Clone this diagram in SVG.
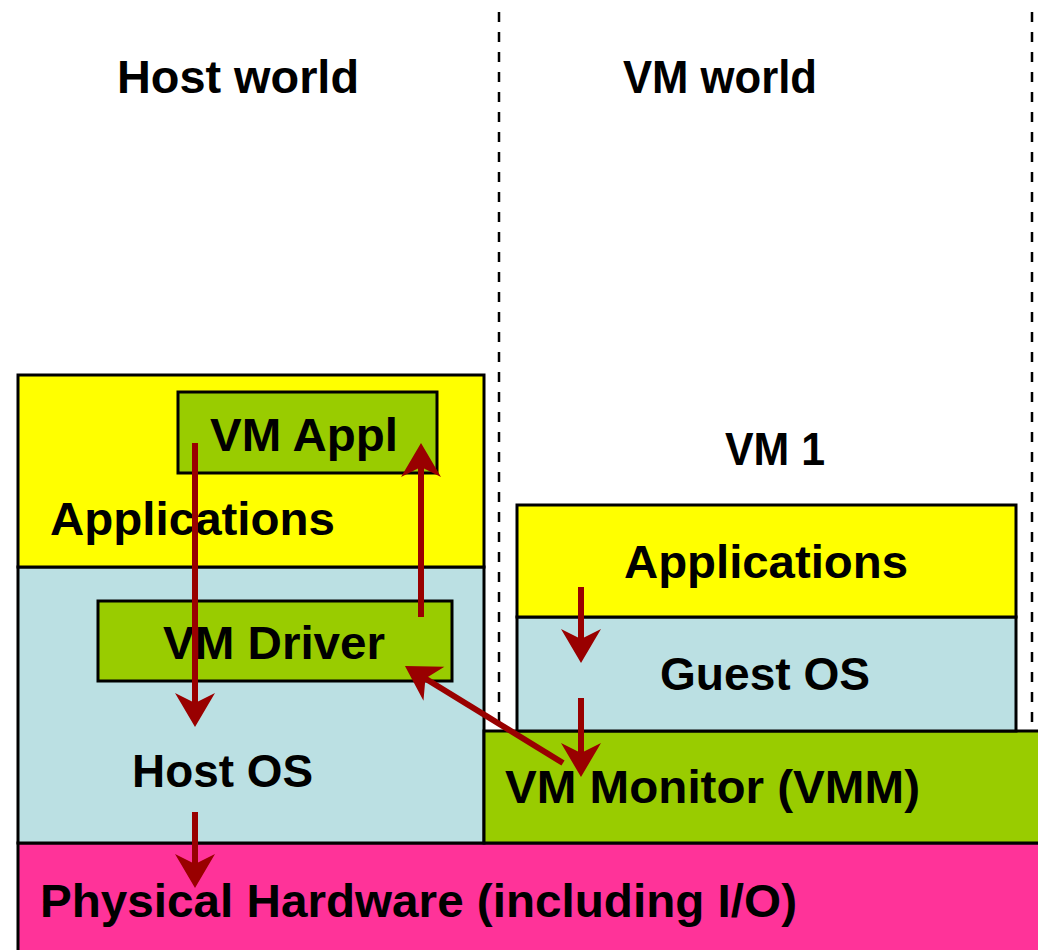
<svg xmlns="http://www.w3.org/2000/svg" width="1038" height="950" viewBox="0 0 1038 950">
<style>
.box{stroke:#000;stroke-width:3}
.yel{fill:#FFFF00}
.blu{fill:#BBE0E3}
.grn{fill:#99CC00}
.pnk{fill:#FF3399}
.t{font-family:"Liberation Sans",Arial,sans-serif;font-weight:bold;font-size:46px;fill:#000}
.dash{stroke:#000;stroke-width:2.5;stroke-dasharray:10 10;fill:none}
.arr{stroke:#990000;stroke-width:6;fill:none;marker-end:url(#ah)}
</style>
<defs>
<marker id="ah" viewBox="0 0 36 44" refX="14" refY="22" markerWidth="36" markerHeight="44" markerUnits="userSpaceOnUse" orient="auto">
<path d="M34,22 L0,2 L10,22 L0,42 Z" fill="#990000"/>
</marker>
</defs>
<rect width="1038" height="950" fill="#fff"/>
<g id="dividers">
<line class="dash" x1="499" y1="12" x2="499" y2="731"/>
<line class="dash" x1="1032" y1="12" x2="1032" y2="731"/>
</g>
<g id="host-world-label"><text class="t" x="117" y="93" textLength="242" lengthAdjust="spacingAndGlyphs">Host world</text></g>
<g id="vm-world-label"><text class="t" x="623" y="93" textLength="194" lengthAdjust="spacingAndGlyphs">VM world</text></g>
<g id="vm1-label"><text class="t" x="725" y="465" textLength="100" lengthAdjust="spacingAndGlyphs">VM 1</text></g>
<g id="physical-hardware">
<rect class="box pnk" x="18" y="843" width="1030" height="120"/>
<text class="t" x="40" y="917" textLength="757" lengthAdjust="spacingAndGlyphs">Physical Hardware (including I/O)</text>
</g>
<g id="host-os">
<rect class="box blu" x="18" y="567" width="466" height="276"/>
<text class="t" x="132" y="787" textLength="181" lengthAdjust="spacingAndGlyphs">Host OS</text>
</g>
<g id="host-applications">
<rect class="box yel" x="18" y="375" width="466" height="192"/>
<text class="t" x="50" y="535" textLength="285" lengthAdjust="spacingAndGlyphs">Applications</text>
</g>
<g id="vm-appl">
<rect class="box grn" x="178" y="392" width="259" height="81"/>
<text class="t" x="210" y="451" textLength="188" lengthAdjust="spacingAndGlyphs">VM Appl</text>
</g>
<g id="vm-driver">
<rect class="box grn" x="98" y="601" width="354" height="80"/>
<text class="t" x="163" y="659" textLength="222" lengthAdjust="spacingAndGlyphs">VM Driver</text>
</g>
<g id="vm-monitor">
<rect class="box grn" x="484" y="731" width="564" height="112"/>
<text class="t" x="505" y="803" textLength="415" lengthAdjust="spacingAndGlyphs">VM Monitor (VMM)</text>
</g>
<g id="guest-os">
<rect class="box blu" x="517" y="617" width="499" height="114"/>
<text class="t" x="660" y="690" textLength="210" lengthAdjust="spacingAndGlyphs">Guest OS</text>
</g>
<g id="vm-applications">
<rect class="box yel" x="517" y="505" width="499" height="112"/>
<text class="t" x="624" y="578" textLength="284" lengthAdjust="spacingAndGlyphs">Applications</text>
</g>
<g id="connectors">
<line class="arr" x1="195" y1="443" x2="195" y2="707"/>
<line class="arr" x1="421" y1="617" x2="421" y2="463"/>
<line class="arr" x1="195" y1="812" x2="195" y2="868"/>
<line class="arr" x1="563" y1="763" x2="422" y2="676.5"/>
<line class="arr" x1="581" y1="587" x2="581" y2="643"/>
<line class="arr" x1="581" y1="698" x2="581" y2="757"/>
</g>
</svg>
